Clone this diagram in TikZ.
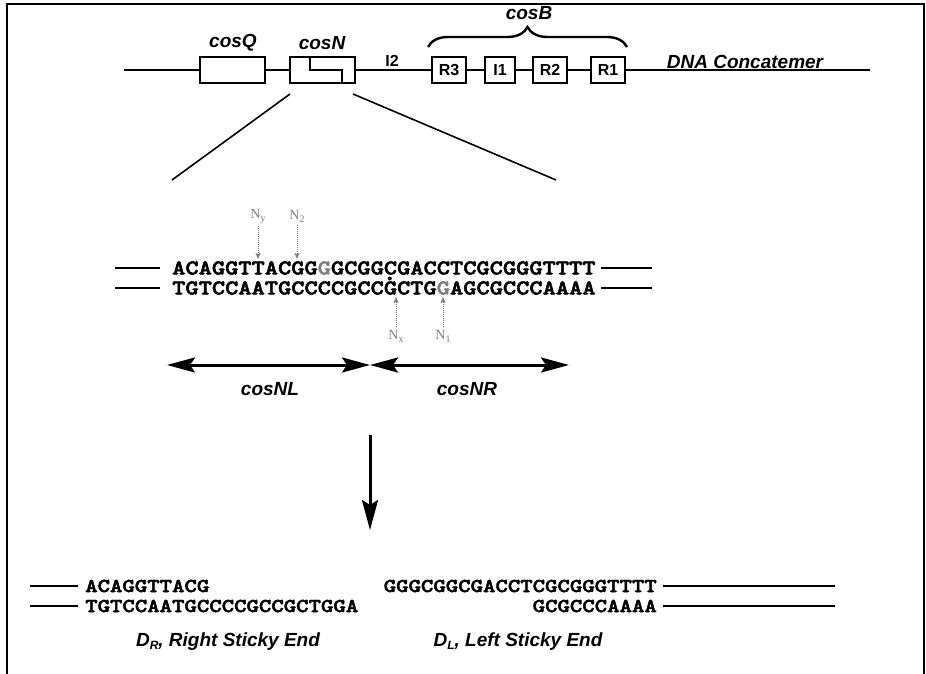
\documentclass[tikz,border=0pt]{standalone}
\usepackage{fontspec}
\setmainfont{Liberation Sans}
\newfontfamily\seqfont{lmmonolt10-bold.otf}[FakeStretch=1.2, FakeBold=2.5]
\newfontfamily\nfont{Liberation Serif}
\usetikzlibrary{arrows.meta,decorations.pathreplacing}
\begin{document}
\begin{tikzpicture}[x=1pt,y=-1pt,
  lab/.style={font=\fontsize{19}{19}\selectfont\bfseries\itshape, inner sep=0pt},
  boxlab/.style={font=\fontsize{16}{16}\selectfont\bfseries, inner sep=0pt},
  elem/.style={draw, line width=2.6pt, fill=white, minimum height=26pt, inner sep=0pt, font=\fontsize{16}{16}\selectfont\bfseries},
  seqbig/.style={font=\fontsize{21}{21}\selectfont\seqfont, inner sep=0pt},
  seqsmall/.style={font=\fontsize{19.7}{19.7}\selectfont\seqfont, inner sep=0pt},
  strand/.style={line width=2.8pt},
  nlab/.style={font=\fontsize{14}{14}\selectfont\nfont, text=gray, inner sep=0pt},
  narrow/.style={gray, densely dotted, line width=1pt, -{Stealth[length=6pt,width=5pt,inset=1pt]}},
  bigarrow/.style={line width=3pt, {Stealth[length=28pt,width=15pt,inset=5pt]}-{Stealth[length=28pt,width=15pt,inset=5pt]}},
  downarrow/.style={line width=3pt, -{Stealth[length=30pt,width=16pt,inset=5pt]}}
]
\useasboundingbox (0,0) rectangle (926,674);
% frame
\draw[line width=2.5pt] (7,674) -- (7,4) -- (924,4) -- (924,674);

% main DNA line
\coordinate (dnaL) at (124,70);
\coordinate (dnaR) at (870,70);
\draw[line width=2.5pt] (dnaL) -- (dnaR);

% elements
\node[elem, minimum width=65pt] (cosQ) at (232.5,70) {};
\node[elem, minimum width=65pt] (cosN) at (322.5,70) {};
\draw[line width=2.4pt] (310,58) -- (310,70) -- (342,70) -- (342,82);
\node[lab] (cosQl) at (233,43) {cosQ};
\node[lab] (cosNl) at (322,43) {cosN};
\node[boxlab] (I2) at (392,61) {I2};
\node[elem, minimum width=34pt] (R3) at (449,70) {R3};
\node[elem, minimum width=30pt] (I1) at (500,70) {I1};
\node[elem, minimum width=34pt] (R2) at (550,70) {R2};
\node[elem, minimum width=34pt] (R1) at (608,70) {R1};
\coordinate (brL) at (428,47);
\coordinate (brR) at (627,47);
\draw[line width=2.4pt, decorate, decoration={brace, amplitude=20pt}] (brL) -- (brR);
\node[lab] (cosB) at (529,13) {cosB};
\node[lab] (dna) at (745,62) {DNA Concatemer};

% zoom lines
\coordinate (zl1) at (290,94);
\coordinate (zl2) at (172,180);
\coordinate (zr1) at (353,94);
\coordinate (zr2) at (556,180);
\draw[line width=1.6pt] (zl1) -- (zl2);
\draw[line width=1.6pt] (zr1) -- (zr2);

% middle sequence
\node[seqbig, anchor=west] (top) at (172,268) {ACAGGTTACGG\textcolor{gray}{G}GCGGCGACCTCGCGGGTTTT};
\node[seqbig, anchor=west] (bot) at (172,288) {TGTCCAATGCCCCGCCGCTG\textcolor{gray}{G}AGCGCCCAAAA};
\coordinate (tl1) at (115,268); \coordinate (tl2) at (160,268);
\coordinate (tr1) at (601,268); \coordinate (tr2) at (652,268);
\coordinate (bl1) at (115,288); \coordinate (bl2) at (160,288);
\coordinate (br1) at (601,288); \coordinate (br2) at (652,288);
\draw[strand] (tl1) -- (tl2); \draw[strand] (tr1) -- (tr2);
\draw[strand] (bl1) -- (bl2); \draw[strand] (br1) -- (br2);
\fill (389.8,278.5) circle (2pt);

% cleavage markers
\node[nlab] (Ny) at (258,216) {N\raisebox{-3pt}{\fontsize{10}{10}\selectfont y}};
\node[nlab] (N2) at (297,216) {N\raisebox{-3pt}{\fontsize{10}{10}\selectfont 2}};
\node[nlab] (Nx) at (396,336) {N\raisebox{-3pt}{\fontsize{10}{10}\selectfont x}};
\node[nlab] (N1) at (443,336) {N\raisebox{-3pt}{\fontsize{10}{10}\selectfont 1}};
\coordinate (Nyt) at (258,259);
\coordinate (N2t) at (297,259);
\coordinate (Nxt) at (396,297);
\coordinate (N1t) at (443,297);
\draw[narrow] (Ny.south) ++(0,3) -- (Nyt);
\draw[narrow] (N2.south) ++(0,3) -- (N2t);
\draw[narrow] (Nx.north) ++(0,-3) -- (Nxt);
\draw[narrow] (N1.north) ++(0,-3) -- (N1t);

% cosNL / cosNR
\coordinate (aL) at (167,365);
\coordinate (aM) at (370,365);
\coordinate (aR) at (569,365);
\draw[bigarrow] (aL) -- (aM);
\draw[bigarrow] (aM) -- (aR);
\node[lab] (cosNL) at (270,389) {cosNL};
\node[lab] (cosNR) at (467,389) {cosNR};

% down arrow
\coordinate (d1) at (370,435);
\coordinate (d2) at (370,530);
\draw[downarrow] (d1) -- (d2);

% products
\node[seqsmall, anchor=west] (drt) at (85,586) {ACAGGTTACG};
\node[seqsmall, anchor=west] (drb) at (85,606) {TGTCCAATGCCCCGCCGCTGGA};
\node[seqsmall, anchor=east] (dlt) at (657,586) {GGGCGGCGACCTCGCGGGTTTT};
\node[seqsmall, anchor=east] (dlb) at (657,606) {GCGCCCAAAA};
\coordinate (p1) at (30,586); \coordinate (p2) at (78,586);
\coordinate (p3) at (30,606); \coordinate (p4) at (78,606);
\coordinate (q1) at (663,586); \coordinate (q2) at (835,586);
\coordinate (q3) at (663,606); \coordinate (q4) at (835,606);
\draw[strand] (p1) -- (p2); \draw[strand] (p3) -- (p4);
\draw[strand] (q1) -- (q2); \draw[strand] (q3) -- (q4);
\node[lab] (DR) at (228,642) {D\raisebox{-3pt}{\fontsize{12}{12}\selectfont R}, Right Sticky End};
\node[lab] (DL) at (518,642) {D\raisebox{-3pt}{\fontsize{12}{12}\selectfont L}, Left Sticky End};
\end{tikzpicture}
\end{document}
